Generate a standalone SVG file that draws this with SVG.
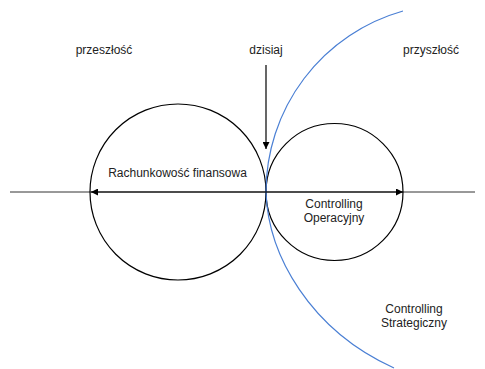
<svg xmlns="http://www.w3.org/2000/svg" width="485" height="369" viewBox="0 0 485 369">
<style>
text{font-family:"Liberation Sans",Arial,sans-serif;font-size:12px;fill:#222;text-anchor:middle}
.ln{stroke:#000;stroke-width:1.2;fill:none}
</style>
<defs>
<marker id="ah" viewBox="0 0 10 10" refX="10" refY="5" markerWidth="7" markerHeight="7" orient="auto-start-reverse" markerUnits="userSpaceOnUse">
<path d="M0,0 L10,5 L0,10 z" fill="#000"/>
</marker>
</defs>
<rect width="485" height="369" fill="#fff"/>
<g id="axis"><line x1="10" y1="192" x2="475" y2="192" stroke="#333" stroke-width="1"/></g>
<g id="left-circle"><circle class="ln" cx="178" cy="192" r="88"/><text x="177.5" y="177">Rachunkowość finansowa</text></g>
<g id="right-circle"><circle class="ln" cx="334.5" cy="192" r="68.5"/><text x="334" y="208">Controlling</text><text x="334" y="222">Operacyjny</text></g>
<g id="strategic"><path d="M403,11 A188,188 0 0 0 266,192 C268,255 310,330 394,368" fill="none" stroke="#4a7fd4" stroke-width="1.2"/><text x="414" y="313">Controlling</text><text x="414" y="327">Strategiczny</text></g>
<g id="labels"><text x="104" y="54">przeszłość</text><text x="266" y="54">dzisiaj</text><text x="431" y="54">przyszłość</text></g>
<g id="connectors">
<line class="ln" x1="91" y1="192" x2="403" y2="192" marker-start="url(#ah)" marker-end="url(#ah)"/>
<line class="ln" x1="266" y1="65" x2="266" y2="149" marker-end="url(#ah)"/>
</g>
</svg>
